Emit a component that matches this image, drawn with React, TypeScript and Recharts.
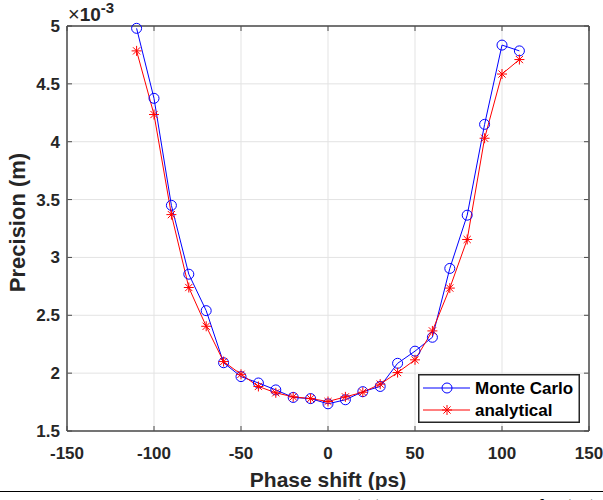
import { LineChart, Line, XAxis, YAxis, CartesianGrid, Legend, ReferenceLine } from "recharts"

// phase shift (ps) and precision values in units of 1e-3 m
const phaseShift = [-110, -100, -90, -80, -70, -60, -50, -40, -30, -20, -10, 0, 10, 20, 30, 40, 50, 60, 70, 80, 90, 100, 110]
const monteCarlo = [4.98, 4.375, 3.45, 2.855, 2.54, 2.09, 1.97, 1.915, 1.855, 1.79, 1.78, 1.735, 1.77, 1.84, 1.885, 2.085, 2.19, 2.31, 2.905, 3.365, 4.15, 4.835, 4.785]
const analytical = [4.785, 4.235, 3.37, 2.74, 2.405, 2.1, 1.99, 1.885, 1.83, 1.795, 1.78, 1.755, 1.795, 1.835, 1.905, 2.005, 2.115, 2.365, 2.735, 3.155, 4.03, 4.585, 4.71]

const xTicks = [-150, -100, -50, 0, 50, 100, 150]
const yTicks = [1.5, 2, 2.5, 3, 3.5, 4, 4.5, 5]
const xDomain = [-150, 150]
const yDomain = [1.5, 5]

const seriesInfo = [
  { key: "monteCarlo", name: "Monte Carlo", color: "#0000ff", marker: "circle" },
  { key: "analytical", name: "analytical", color: "#ff0000", marker: "star" },
]

const data = phaseShift.map((p, i) => ({ phase: p, monteCarlo: monteCarlo[i], analytical: analytical[i] }))

const TEXT = "#262626"
const FRAME = "#4a4a4a"
const GRID = "#e3e3e3"
const FONT = "'Liberation Sans', Arial, sans-serif"
const TICK_LEN = 5

const Circle = ({ cx, cy, color }: any) => <circle cx={cx} cy={cy} r={5} fill="none" stroke={color} strokeWidth={1} />

const Star = ({ cx, cy, color }: any) => {
  const d = 3.6
  return (
    <g stroke={color} strokeWidth={1}>
      <line x1={cx - 5} y1={cy} x2={cx + 5} y2={cy} />
      <line x1={cx} y1={cy - 5} x2={cx} y2={cy + 5} />
      <line x1={cx - d} y1={cy - d} x2={cx + d} y2={cy + d} />
      <line x1={cx - d} y1={cy + d} x2={cx + d} y2={cy - d} />
    </g>
  )
}

const BottomTick = ({ x, y, payload }: any) => (
  <text x={x} y={y} dy="0.71em" textAnchor="middle" fontSize={17} fontWeight="bold" fill={TEXT} fontFamily={FONT}>
    {payload.value}
  </text>
)

const LeftTick = ({ x, y, payload }: any) => (
  <text x={x} y={y} dy="0.355em" textAnchor="end" fontSize={17} fontWeight="bold" fill={TEXT} fontFamily={FONT}>
    {payload.value}
  </text>
)

// grid lines that also carry the inward (matlab style) tick marks at both ends
const HGridLine = (p: any) => {
  const left = Math.min(p.x1, p.x2)
  const right = Math.max(p.x1, p.x2)
  return (
    <g key={p.key}>
      <line x1={left} x2={right} y1={p.y1} y2={p.y1} stroke={GRID} />
      <line x1={left} x2={left + TICK_LEN} y1={p.y1} y2={p.y1} stroke={FRAME} />
      <line x1={right} x2={right - TICK_LEN} y1={p.y1} y2={p.y1} stroke={FRAME} />
    </g>
  )
}

const VGridLine = (p: any) => {
  const top = Math.min(p.y1, p.y2)
  const bottom = Math.max(p.y1, p.y2)
  return (
    <g key={p.key}>
      <line x1={p.x1} x2={p.x1} y1={top} y2={bottom} stroke={GRID} />
      <line x1={p.x1} x2={p.x1} y1={top} y2={top + TICK_LEN} stroke={FRAME} />
      <line x1={p.x1} x2={p.x1} y1={bottom} y2={bottom - TICK_LEN} stroke={FRAME} />
    </g>
  )
}

const ExponentLabel = ({ viewBox }: any) => (
  <text x={viewBox.x + 1} y={viewBox.y - 5} fill={TEXT} fontFamily={FONT}>
    <tspan fontSize={20}>×</tspan>
    <tspan fontSize={19} fontWeight="bold">10</tspan>
    <tspan fontSize={15} fontWeight="bold" dy={-8}>-3</tspan>
  </text>
)

const XLabel = ({ viewBox }: any) => (
  <text x={viewBox.x + viewBox.width / 2} y={487} textAnchor="middle" fontSize={21} fontWeight="bold" fill={TEXT} fontFamily={FONT}>
    Phase shift (ps)
  </text>
)

const YLabel = ({ viewBox }: any) => (
  <text
    transform={`translate(25, ${viewBox.y + viewBox.height / 2 - 6}) rotate(-90)`}
    textAnchor="middle"
    fontSize={22}
    fontWeight="bold"
    fill={TEXT}
    fontFamily={FONT}
  >
    Precision (m)
  </text>
)

const LegendBox = () => (
  <svg width={162} height={49} style={{ display: "block" }}>
    <rect x={0.75} y={0.75} width={160.5} height={47.5} fill="#fff" stroke={TEXT} strokeWidth={1.5} />
    {seriesInfo.map((s, i) => {
      const cy = 14 + i * 22
      return (
        <g key={s.key}>
          <line x1={5} x2={52} y1={cy} y2={cy} stroke={s.color} strokeWidth={1} />
          {s.marker === "circle" ? <Circle cx={29} cy={cy} color={s.color} /> : <Star cx={29} cy={cy} color={s.color} />}
          <text x={57} y={cy} dy="0.355em" fontSize={17} fontWeight="bold" fill="#000" fontFamily={FONT}>
            {s.name}
          </text>
        </g>
      )
    })}
  </svg>
)

export default function App() {
  return (
    <div style={{ position: "absolute", left: 0, top: 0, width: 603, height: 500, overflow: "hidden", background: "#fff" }}>
      <LineChart width={603} height={490} data={data} margin={{ top: 26, right: 14, left: 0, bottom: 0 }}>
        <CartesianGrid horizontal={HGridLine} vertical={VGridLine} />
        <XAxis
          dataKey="phase"
          type="number"
          domain={xDomain}
          ticks={xTicks}
          height={59}
          tickSize={0}
          tickMargin={16}
          tick={<BottomTick />}
          axisLine={{ stroke: FRAME, strokeWidth: 1.5 }}
          label={<XLabel />}
        />
        <YAxis
          type="number"
          domain={yDomain}
          ticks={yTicks}
          width={67}
          tickSize={0}
          tickMargin={7}
          tick={<LeftTick />}
          axisLine={{ stroke: FRAME, strokeWidth: 1.5 }}
          label={<YLabel />}
        />
        {/* top and right edges of the box */}
        <ReferenceLine y={yDomain[1]} stroke={FRAME} strokeWidth={1.5} ifOverflow="visible" label={<ExponentLabel />} />
        <ReferenceLine x={xDomain[1]} stroke={FRAME} strokeWidth={1.5} ifOverflow="visible" />
        <Legend
          layout="horizontal"
          verticalAlign="middle"
          align="center"
          content={<LegendBox />}
          wrapperStyle={{ left: 418, top: 374, width: "auto" }}
        />
        <Line
          type="linear"
          dataKey="monteCarlo"
          name="Monte Carlo"
          stroke="#0000ff"
          strokeWidth={1}
          isAnimationActive={false}
          dot={(p: any) => <Circle key={`mc-${p.index}`} cx={p.cx} cy={p.cy} color="#0000ff" />}
        />
        <Line
          type="linear"
          dataKey="analytical"
          name="analytical"
          stroke="#ff0000"
          strokeWidth={1}
          isAnimationActive={false}
          dot={(p: any) => <Star key={`an-${p.index}`} cx={p.cx} cy={p.cy} color="#ff0000" />}
        />
      </LineChart>
      <div style={{ marginTop: 1, borderTop: "1.5px solid #000", width: 603 }} />
      <div
        style={{
          fontFamily: "'Liberation Serif', 'Times New Roman', serif",
          fontStyle: "italic",
          fontSize: 22,
          lineHeight: "22px",
          paddingLeft: 81,
          marginTop: 4,
          whiteSpace: "nowrap",
          wordSpacing: 9,
        }}
      >
        Figure 4: Depth precision (m) and phase shift (ps)
      </div>
    </div>
  )
}
